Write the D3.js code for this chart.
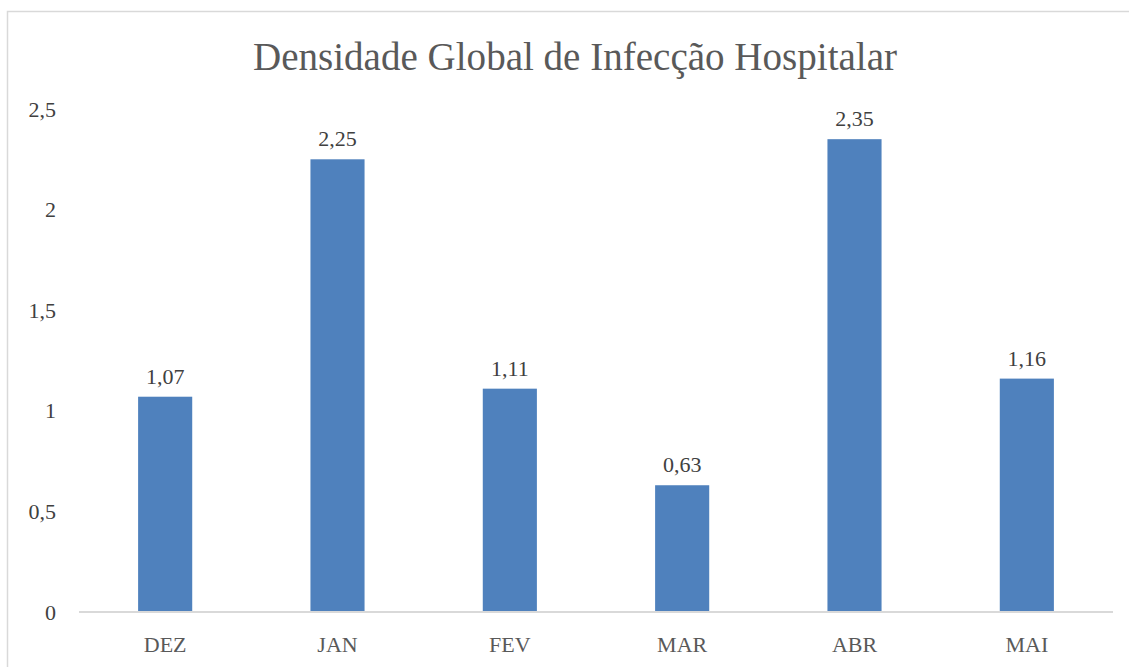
<!DOCTYPE html>
<html>
<head>
<meta charset="utf-8">
<script src="https://cdn.jsdelivr.net/npm/d3@7"></script>
<style>
  body { margin: 0; background: #fff; }
  text { font-family: "Liberation Serif", "DejaVu Serif", serif; }
</style>
</head>
<body>
<svg id="chart"></svg>
<script>
const months = ['DEZ', 'JAN', 'FEV', 'MAR', 'ABR', 'MAI'];
const values = [1.07, 2.25, 1.11, 0.63, 2.35, 1.16];
const yTicks = [0, 0.5, 1, 1.5, 2, 2.5];
const title = 'Densidade Global de Infecção Hospitalar';

function renderBarChart(el) {
  let width = 1129;
  let height = 667;
  let svg = d3.select(el).attr('width', width).attr('height', height);

  // chart frame
  svg.append('rect')
    .attr('x', 7.5).attr('y', 11.5)
    .attr('width', width + 10).attr('height', height + 10)
    .attr('fill', '#fff')
    .attr('stroke', '#d9d9d9')
    .attr('stroke-width', 1.5);

  let margin = { left: 79, right: 1129 - 1113, bottom: 667 - 612 };

  let x = d3.scaleBand()
    .domain(months)
    .range([margin.left, width - margin.right])
    .paddingInner(0.686)
    .paddingOuter(0.343);

  let y = d3.scaleLinear().domain([0, 2.5]).range([612, 109]);

  let fmt = v => String(v).replace('.', ',');

  let t = svg.append('text')
    .attr('x', 575).attr('y', 70)
    .attr('text-anchor', 'middle')
    .attr('fill', '#595959')
    .style('font-size', '41px')
    .text(title);
  // fit width of the title to the reference
  let len = t.node().getComputedTextLength();
  if (len > 0) t.attr('textLength', 644).attr('lengthAdjust', 'spacingAndGlyphs');

  // y axis labels (no line, no gridlines)
  let yAxis = d3.axisLeft(y).tickValues(yTicks).tickFormat(fmt).tickSize(0).tickPadding(0);
  let ya = svg.append('g').attr('transform', 'translate(56,0)').call(yAxis);
  ya.select('.domain').remove();
  ya.selectAll('text')
    .attr('fill', '#404040')
    .style('font-size', '22px')
    .style('font-family', '"Liberation Serif", serif');

  // bars
  svg.append('g').selectAll('rect')
    .data(values)
    .join('rect')
    .attr('x', (d, i) => x(months[i]))
    .attr('y', d => y(d))
    .attr('width', x.bandwidth())
    .attr('height', d => y(0) - y(d))
    .attr('fill', '#4f81bd');

  // value labels
  svg.append('g').selectAll('text')
    .data(values)
    .join('text')
    .attr('x', (d, i) => x(months[i]) + x.bandwidth() / 2)
    .attr('y', d => y(d) - 13)
    .attr('text-anchor', 'middle')
    .attr('fill', '#404040')
    .style('font-size', '22px')
    .text(fmt);

  // x axis
  let xAxis = d3.axisBottom(x).tickSize(0).tickPadding(0);
  let xa = svg.append('g').attr('transform', 'translate(0,' + y(0) + ')').call(xAxis);
  xa.select('.domain').attr('stroke', '#d9d9d9').attr('stroke-width', 2)
    .attr('d', 'M' + margin.left + ',0H' + (width - margin.right));
  xa.selectAll('text')
    .attr('dy', 0)
    .attr('y', 40)
    .attr('fill', '#595959')
    .style('font-size', '22px')
    .style('font-family', '"Liberation Serif", serif');
}

renderBarChart(document.getElementById('chart'));
</script>
</body>
</html>
